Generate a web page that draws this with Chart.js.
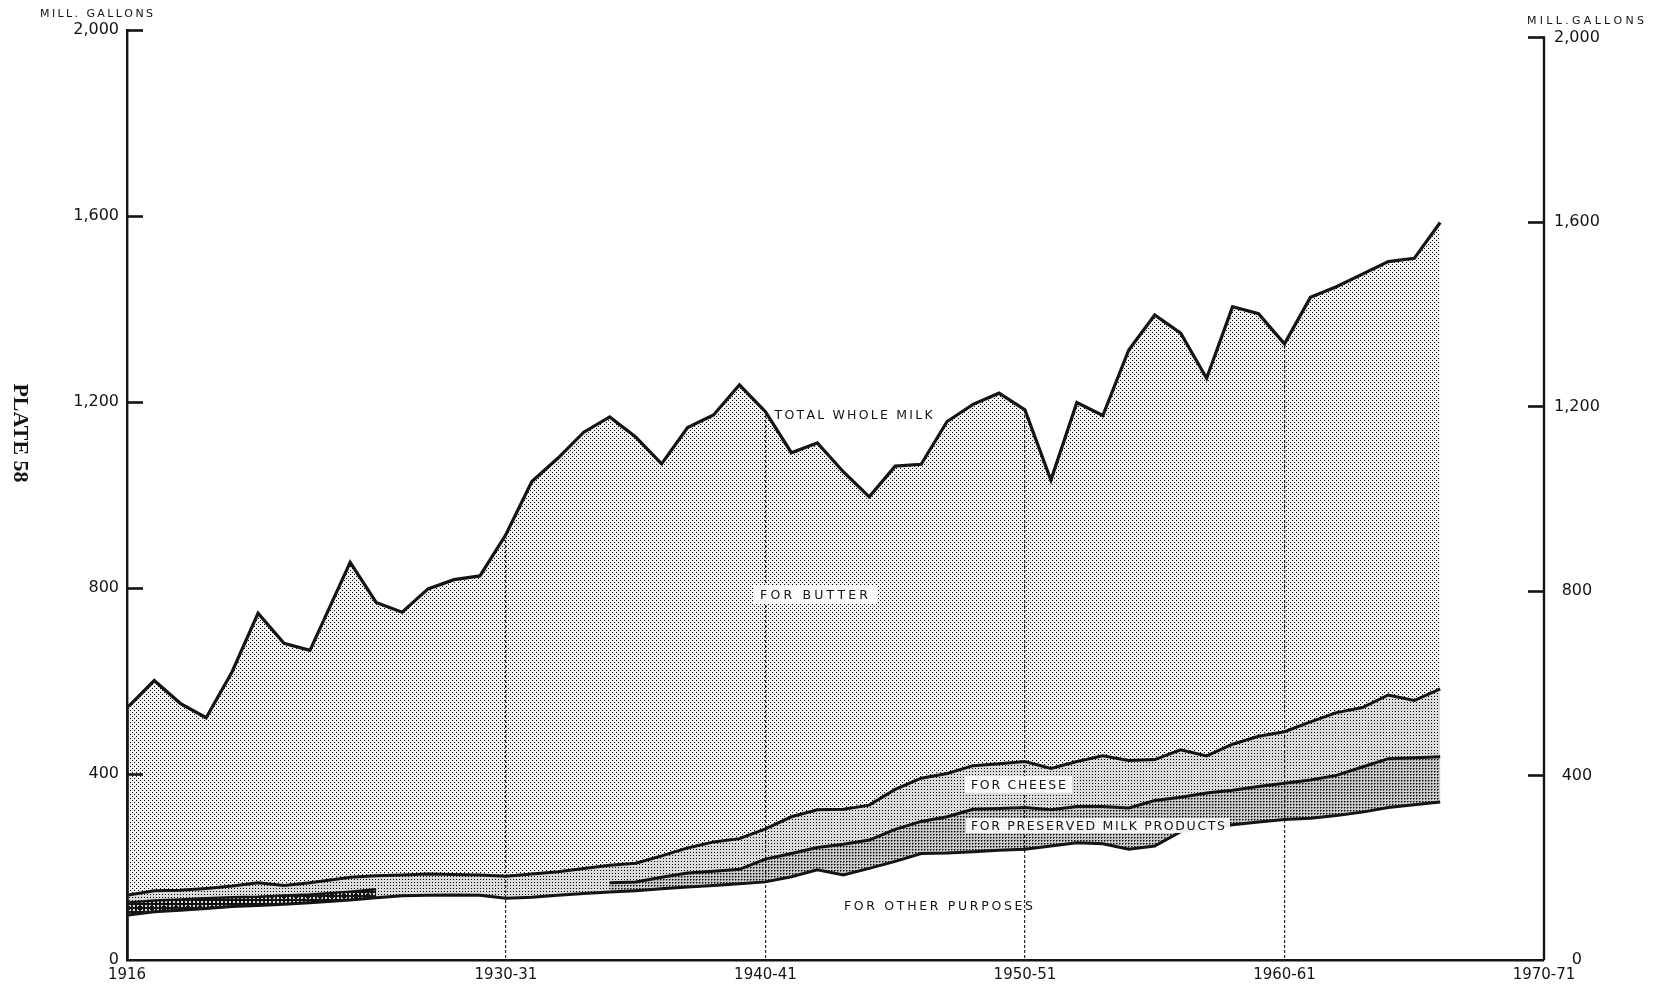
<!DOCTYPE html>
<html>
<head>
<meta charset="utf-8">
<title>Whole milk utilisation</title>
<script src="https://cdn.jsdelivr.net/npm/chart.js@4.4.1/dist/chart.umd.min.js"></script>
<style>
  html, body { margin: 0; padding: 0; background: #ffffff; }
  #wrap { position: relative; width: 1661px; height: 989px; }
  canvas { display: block; }
</style>
</head>
<body>
<div id="wrap"><canvas id="c" width="1661" height="989"></canvas></div>
<script>
// ---- Data (million gallons) ----
// Calendar years 1916-1923, then split years 1924-25 ... 1966-67
const periods = ['1916','1917','1918','1919','1920','1921','1922','1923',
  '1924-25','1925-26','1926-27','1927-28','1928-29','1929-30','1930-31','1931-32','1932-33','1933-34',
  '1934-35','1935-36','1936-37','1937-38','1938-39','1939-40','1940-41','1941-42','1942-43','1943-44',
  '1944-45','1945-46','1946-47','1947-48','1948-49','1949-50','1950-51','1951-52','1952-53','1953-54',
  '1954-55','1955-56','1956-57','1957-58','1958-59','1959-60','1960-61','1961-62','1962-63','1963-64',
  '1964-65','1965-66','1966-67'];
// position of each period on the time axis
const periodX = [1915.45, 1916.45, 1917.45, 1918.45, 1919.45, 1920.45, 1921.45, 1922.45,
  1924, 1925, 1926, 1927, 1928, 1929, 1930, 1931, 1932, 1933,
  1934, 1935, 1936, 1937, 1938, 1939, 1940, 1941, 1942, 1943,
  1944, 1945, 1946, 1947, 1948, 1949, 1950, 1951, 1952, 1953,
  1954, 1955, 1956, 1957, 1958, 1959, 1960, 1961, 1962, 1963,
  1964, 1965, 1966];

const totalWholeMilk = [545, 601, 552, 521, 620, 746, 681, 666,
  855, 769, 748, 798, 818, 826, 915, 1029, 1079, 1135,
  1168, 1125, 1067, 1145, 1172, 1237, 1179, 1091, 1112, 1050,
  996, 1062, 1066, 1158, 1195, 1219, 1183, 1032, 1199, 1171,
  1312, 1387, 1348, 1251, 1405, 1390, 1325, 1425, 1448, 1475,
  1502, 1509, 1586];

// cumulative: other purposes + preserved products + cheese
const cheeseTop = [140, 149, 150, 154, 159, 166, 160, 166,
  178, 181, 183, 185, 184, 183, 180, 185, 190, 197,
  204, 208, 224, 241, 254, 261, 282, 308, 323, 324,
  333, 367, 391, 401, 418, 422, 427, 412, 427, 439,
  429, 431, 452, 439, 464, 481, 491, 512, 532, 543,
  570, 558, 583];

// cumulative: other purposes + preserved products (shown separately 1916-1925-26 and from 1934-35)
const preservedTopEarly = [124, 128, 130, 133, 135, 136, 139, 141, 147, 152];
const preservedTopLate = [166, 168, 178, 187, 191, 195, 217, 229, 242, 249,
  258, 281, 298, 308, 324, 326, 328, 323, 330, 330,
  327, 343, 350, 359, 365, 373, 380, 387, 397, 415,
  433, 435, 437];

const otherPurposes = [97, 104, 107, 111, 115, 117, 120, 123,
  129, 134, 138, 139, 140, 139, 133, 135, 139, 143,
  146, 149, 153, 157, 160, 164, 168, 179, 194, 183,
  197, 212, 229, 230, 233, 236, 238, 245, 252, 250,
  238, 245, 276, 284, 291, 297, 302, 305, 311, 318,
  328, 334, 340];

const yTicks = [0, 400, 800, 1200, 1600, 2000];
const xTickValues = [1915.4, 1930, 1940, 1950, 1960, 1970];
const xTickLabels = ['1916', '1930-31', '1940-41', '1950-51', '1960-61', '1970-71'];

// ---- Styling ----
const INK = '#141414';
const FONT = '"DejaVu Sans", "Liberation Sans", sans-serif';
const canvas = document.getElementById('c');
const ctx = canvas.getContext('2d');

function makePattern(w, h, paint) {
  const tile = document.createElement('canvas');
  tile.width = w; tile.height = h;
  const g = tile.getContext('2d');
  paint(g);
  return ctx.createPattern(tile, 'repeat');
}
// light stipple for butter
const butterPat = makePattern(4, 4, g => {
  g.fillStyle = 'rgba(0,0,0,0.05)'; g.fillRect(0, 0, 4, 4);
  g.fillStyle = '#000'; g.fillRect(0, 0, 1, 1); g.fillRect(2, 2, 1, 1);
});
// regular dot screen for cheese
const cheesePat = makePattern(3, 3, g => {
  g.fillStyle = 'rgba(0,0,0,0.14)'; g.fillRect(0, 0, 3, 3);
  g.fillStyle = '#000'; g.fillRect(0, 0, 1, 1);
});
// fine cross screen for preserved milk products
const preservedPat = makePattern(3, 3, g => {
  g.fillStyle = 'rgba(0,0,0,0.08)'; g.fillRect(0, 0, 3, 3);
  g.fillStyle = '#000'; g.fillRect(0, 0, 1, 1);
  g.fillStyle = 'rgba(0,0,0,0.5)'; g.fillRect(1, 0, 1, 1); g.fillRect(0, 1, 1, 1);
});
// dark chain screen for the early preserved band
const chainPat = makePattern(4, 4, g => {
  g.fillStyle = 'rgba(0,0,0,0.9)'; g.fillRect(0, 0, 4, 4);
  g.clearRect(1, 1, 2, 2);
});

const pts = (xs, ys) => ys.map((y, i) => ({ x: xs[i], y }));
const xEarly = periodX.slice(0, preservedTopEarly.length);
const xLate = periodX.slice(periodX.length - preservedTopLate.length);

// text with its letters spread over a given width, centred on (cx, capMid)
function spacedText(c, text, cx, capMid, width, size) {
  const chars = [...text];
  const ws = chars.map(ch => c.measureText(ch).width);
  const sum = ws.reduce((a, b) => a + b, 0);
  const gap = chars.length > 1 ? (width - sum) / (chars.length - 1) : 0;
  let x = cx - width / 2;
  c.textAlign = 'left';
  c.textBaseline = 'alphabetic';
  const base = capMid + size * 0.729 / 2;
  chars.forEach((ch, i) => { c.fillText(ch, x, base); x += ws[i] + gap; });
}

const areaLabels = [
  { text: 'TOTAL WHOLE MILK', cx: 853.6, cy: 414, w: 158, box: false },
  { text: 'FOR BUTTER', cx: 814, cy: 594, w: 108, box: [753, 585, 124, 19] },
  { text: 'FOR CHEESE', cx: 1018.4, cy: 784, w: 95, box: [965, 776, 107, 17] },
  { text: 'FOR PRESERVED MILK PRODUCTS', cx: 1098, cy: 825.5, w: 254, box: [966, 818, 264, 15] },
  { text: 'FOR OTHER PURPOSES', cx: 938.5, cy: 905, w: 189, box: false }
];

const decorations = {
  id: 'decorations',
  afterDraw(chart) {
    const c = chart.ctx;
    const area = chart.chartArea;
    c.save();
    c.strokeStyle = INK;
    c.lineCap = 'butt';

    // right-hand value axis line, from its top tick down to the base
    const r = chart.scales.y2;
    c.lineWidth = 2.4;
    c.beginPath();
    c.moveTo(area.right, r.getPixelForValue(yTicks[yTicks.length - 1]) - 1.2);
    c.lineTo(area.right, area.bottom);
    c.stroke();

    // inward tick marks on both value axes
    c.lineWidth = 2.6;
    ['y', 'y2'].forEach(id => {
      const s = chart.scales[id];
      s.ticks.forEach(t => {
        if (t.value === 0) return;
        const py = Math.round(s.getPixelForValue(t.value)) + 0.5;
        c.beginPath();
        if (id === 'y') { c.moveTo(area.left, py); c.lineTo(area.left + 16, py); }
        else { c.moveTo(area.right - 16, py); c.lineTo(area.right, py); }
        c.stroke();
      });
    });

    // area labels
    const size = 12.5;
    c.font = size + 'px ' + FONT;
    areaLabels.forEach(l => {
      if (l.box) {
        c.fillStyle = 'rgba(255,255,255,0.92)';
        c.fillRect(l.box[0], l.box[1], l.box[2], l.box[3]);
      }
      c.fillStyle = INK;
      spacedText(c, l.text, l.cx, l.cy, l.w, size);
    });

    // unit captions
    c.font = '11px ' + FONT;
    c.fillStyle = INK;
    spacedText(c, 'MILL. GALLONS', 96.5, 13, 113, 11);
    spacedText(c, 'MILL.GALLONS', 1585.5, 20, 117, 11);

    // plate number in the margin
    c.translate(20, 433);
    c.rotate(Math.PI / 2);
    c.font = 'bold 22px "Liberation Serif", "DejaVu Serif", serif';
    c.textAlign = 'center';
    c.textBaseline = 'middle';
    c.fillText('PLATE 58', 0, 0);
    c.restore();
  }
};

const xFont = { family: FONT, size: 15 };
const yFont = { family: FONT, size: 16 };

new Chart(ctx, {
  type: 'line',
  data: {
    datasets: [
      { label: 'blank above total', data: pts(periodX, totalWholeMilk), fill: 'end',
        backgroundColor: '#ffffff', borderColor: 'rgba(0,0,0,0)', borderWidth: 0, order: 9 },
      { label: 'Total whole milk', data: pts(periodX, totalWholeMilk), fill: 2,
        backgroundColor: butterPat, borderColor: INK, borderWidth: 3.2, order: 5 },
      { label: 'For cheese', data: pts(periodX, cheeseTop), fill: 5,
        backgroundColor: cheesePat, borderColor: INK, borderWidth: 3, order: 4 },
      { label: 'For preserved milk products (early)', data: pts(xEarly, preservedTopEarly), fill: 5,
        backgroundColor: chainPat, borderColor: INK, borderWidth: 2.4, order: 3 },
      { label: 'For preserved milk products', data: pts(xLate, preservedTopLate), fill: 5,
        backgroundColor: preservedPat, borderColor: INK, borderWidth: 3, order: 3 },
      { label: 'For other purposes', data: pts(periodX, otherPurposes), fill: false,
        borderColor: INK, borderWidth: 3, order: 1 }
    ]
  },
  options: {
    responsive: false,
    animation: false,
    devicePixelRatio: 1,
    events: [],
    layout: { padding: { top: 30, left: 0, right: 0, bottom: 0 } },
    elements: {
      point: { radius: 0, hoverRadius: 0 },
      line: { tension: 0, borderJoinStyle: 'miter', borderCapStyle: 'butt' }
    },
    plugins: { legend: { display: false }, tooltip: { enabled: false } },
    scales: {
      x: {
        type: 'linear',
        min: xTickValues[0],
        max: xTickValues[xTickValues.length - 1],
        afterBuildTicks: s => { s.ticks = xTickValues.map(v => ({ value: v })); },
        afterFit: s => { s.height = 29; },
        grid: {
          drawTicks: false,
          lineWidth: 1.2,
          color: c => (c.index === 0 || c.index === xTickValues.length - 1) ? 'rgba(0,0,0,0)' : '#2a2a2a'
        },
        border: { display: true, color: INK, width: 2.6, dash: [3, 2] },
        ticks: {
          autoSkip: false, maxRotation: 0, padding: 6,
          font: xFont, color: INK,
          callback: (v, i) => xTickLabels[i]
        }
      },
      y: {
        type: 'linear', position: 'left', min: 0, max: 2000, z: 1,
        afterBuildTicks: s => { s.ticks = yTicks.map(v => ({ value: v })); },
        afterFit: s => { s.width = 127; },
        grid: { display: false, drawTicks: false },
        border: { display: true, color: INK, width: 2.8 },
        ticks: { padding: 8, font: yFont, color: INK, callback: v => v.toLocaleString('en-US') }
      },
      y2: {
        // the right-hand scale is printed slightly lower than the left one
        type: 'linear', position: 'right', min: 0, max: 2016, z: 1,
        afterBuildTicks: s => { s.ticks = yTicks.map(v => ({ value: v })); },
        afterFit: s => { s.width = 117; },
        grid: { display: false, drawTicks: false },
        border: { display: false },
        ticks: { padding: 10, crossAlign: 'center', font: yFont, color: INK,
                 callback: v => v.toLocaleString('en-US') }
      }
    }
  },
  plugins: [decorations]
});
</script>
</body>
</html>
